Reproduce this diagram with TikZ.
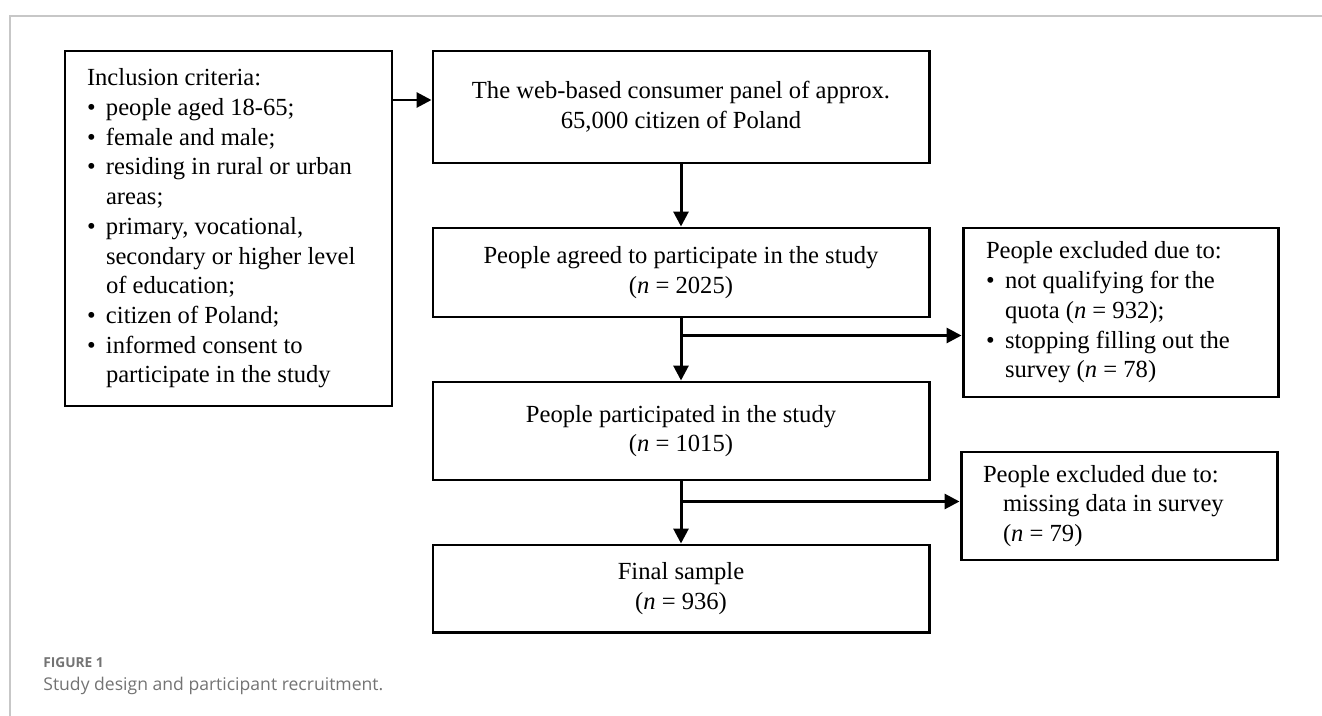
\documentclass[tikz,border=0pt]{standalone}
\usepackage{fontspec}
\setmainfont{Liberation Serif}
\newfontfamily\capfont{Open Sans}
\usetikzlibrary{arrows.meta, positioning, calc}

\newcommand{\bul}{\makebox[0.38cm][l]{\textbullet}}
\newcommand{\bulind}{\hspace*{0.38cm}}

\begin{document}
\begin{tikzpicture}[
    % Main flow box style
    flowbox/.style={
        rectangle,
        draw=black,
        line width=1.7pt,
        fill=white,
        minimum width=9.92cm,
        inner sep=0pt,
        align=center,
        font=\fontsize{14}{16.9}\selectfont
    },
    % Box with a list of items
    listbox/.style={
        rectangle,
        draw=black,
        line width=1.7pt,
        fill=white,
        inner ysep=0pt,
        align=flush left,
        font=\fontsize{14}{16.9}\selectfont
    },
    % Arrow style
    arrow/.style={
        -{Triangle[length=0.3cm, width=0.3cm]},
        line width=1.7pt,
        black
    },
    % Frame line style
    frameline/.style={
        draw=black!22,
        line width=0.8pt
    }
]

\useasboundingbox (0,0) rectangle (26.44,-14.32);

% === Frame ===
\draw[frameline] (26.44,-0.32) -- (0.2,-0.32) -- (0.2,-14.32);

% === Inclusion criteria ===
\node[listbox, text width=5.66cm, inner xsep=0.44cm, minimum height=7.10cm] (incl) at (4.57,-4.57) {Inclusion criteria:\\
    \bul people aged 18-65;\\
    \bul female and male;\\
    \bul residing in rural or urban\\
    \bulind areas;\\
    \bul primary, vocational,\\
    \bulind secondary or higher level\\
    \bulind of education;\\
    \bul citizen of Poland;\\
    \bul informed consent to\\
    \bulind participate in the study};

% === Main flow ===
\node[flowbox, minimum height=2.24cm] (panel) at (13.62,-2.14) {The web-based consumer panel of approx.\\ 65,000 citizen of Poland};
\node[flowbox, minimum height=1.78cm] (agreed) at (13.62,-5.45) {People agreed to participate in the study\\ (\textit{n} = 2025)};
\node[flowbox, minimum height=1.96cm] (participated) at (13.62,-8.62) {People participated in the study\\ (\textit{n} = 1015)};
\node[flowbox, minimum height=1.74cm] (final) at (13.62,-11.77) {Final sample\\ (\textit{n} = 936)};

% === Exclusions ===
\node[listbox, text width=5.38cm, inner xsep=0.46cm, minimum height=3.38cm] (exquota) at (22.41,-6.25) {People excluded due to:\\
    \bul not qualifying for the\\
    \bulind quota (\textit{n} = 932);\\
    \bul stopping filling out the\\
    \bulind survey (\textit{n} = 78)};
\node[listbox, text width=5.44cm, inner xsep=0.44cm, minimum height=2.16cm] (exmissing) at (22.38,-10.12) {People excluded due to:\\
    \hspace*{0.4cm}missing data in survey\\
    \hspace*{0.4cm}(\textit{n} = 79)};

% === Arrows ===
\coordinate (panelin) at ($(panel.west)+(0,0.14)$);
\coordinate (split1) at ($(agreed.south)+(0,-0.34)$);
\coordinate (split2) at ($(participated.south)+(0,-0.40)$);
\draw[arrow] (incl.east |- panelin) -- (panelin);
\draw[arrow] (panel) -- (agreed);
\draw[arrow] (agreed) -- (participated);
\draw[arrow] (participated) -- (final);
\draw[arrow] (split1) -- (split1 -| exquota.west);
\draw[arrow] (split2) -- (split2 -| exmissing.west);

% === Caption ===
\node[font=\capfont\bfseries\fontsize{7.8}{9}\selectfont, text=black!55, anchor=base west, inner sep=0pt] (figlabel) at (0.86,-13.34) {FIGURE 1};
\node[font=\capfont\fontsize{10}{12}\selectfont, text=black!55, anchor=base west, inner sep=0pt] (figcaption) at (0.86,-13.80) {Study design and participant recruitment.};

\end{tikzpicture}
\end{document}
